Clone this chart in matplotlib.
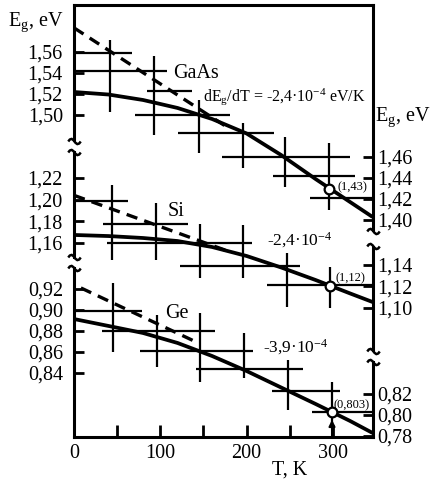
import matplotlib
matplotlib.use('Agg')
import matplotlib.pyplot as plt
from matplotlib.lines import Line2D

plt.rcParams['font.family'] = ['Liberation Serif', 'DejaVu Serif']
plt.rcParams['mathtext.fontset'] = 'custom'
plt.rcParams['mathtext.rm'] = 'Liberation Serif'
plt.rcParams['mathtext.it'] = 'Liberation Serif:italic'
plt.rcParams['mathtext.default'] = 'regular'

# ---------------- data ----------------
curve_T = [0, 40, 80, 120, 160, 200, 240, 280, 320, 346]
gaas_curve_E = [1.5219, 1.5195, 1.5143, 1.5067, 1.4962, 1.4824, 1.4619, 1.4390, 1.4171, 1.4029]
si_curve_E = [1.1674, 1.1664, 1.1646, 1.1618, 1.1563, 1.1480, 1.1374, 1.1258, 1.1134, 1.1055]
ge_curve_E = [0.8914, 0.8848, 0.8781, 0.8686, 0.8562, 0.8419, 0.8262, 0.8105, 0.7943, 0.7829]

gaas_dash_T = [0, 179]
gaas_dash_E = [1.583, 1.4876]
si_dash_T = [0, 178]
si_dash_E = [1.204, 1.1526]
ge_dash_T = [8, 144]
ge_dash_E = [0.921, 0.8686]

# vertical error bars (T, E_low, E_high)
gaas_v_T = [42, 93, 145, 196, 245, 296]
gaas_v_lo = [1.503, 1.481, 1.464, 1.450, 1.431, 1.410]
gaas_v_hi = [1.571, 1.556, 1.514, 1.492, 1.479, 1.473]
si_v_T = [44, 95, 146, 196, 247, 297]
si_v_lo = [1.144, 1.144, 1.128, 1.128, 1.101, 1.100]
si_v_hi = [1.2135, 1.197, 1.1775, 1.1766, 1.1507, 1.1378]
ge_v_T = [45, 96, 146, 197, 248, 299]
ge_v_lo = [0.860, 0.8457, 0.8314, 0.8352, 0.8048, 0.7924]
ge_v_hi = [0.9257, 0.8952, 0.8971, 0.8781, 0.8524, 0.8314]

# horizontal error bars (E, T_low, T_high)
gaas_h_E = [1.559, 1.542, 1.523, 1.500, 1.483, 1.460, 1.442, 1.421]
gaas_h_lo = [0, 0, 85, 71, 120, 171, 231, 273]
gaas_h_hi = [67, 108, 137, 181, 232, 320, 326, 346]
si_h_E = [1.199, 1.1775, 1.160, 1.1387, 1.1212]
si_h_lo = [0, 34, 38, 123, 224]
si_h_hi = [63, 132, 206, 262, 346]
ge_h_E = [0.899, 0.880, 0.861, 0.8438, 0.8229, 0.8029]
ge_h_lo = [0, 32, 76, 141, 229, 276]
ge_h_hi = [79, 163, 207, 265, 308, 346]

# marked points at 300 K
gaas_pt = (296, 1.430)
si_pt = (297, 1.120)
ge_pt = (299, 0.803)
pt_labels = ['(1,43)', '(1,12)', '(0,803)']

gaas_left_ticks = [1.50, 1.52, 1.54, 1.56]
gaas_right_ticks = [1.40, 1.42, 1.44, 1.46]
si_left_ticks = [1.16, 1.18, 1.20, 1.22]
si_right_ticks = [1.10, 1.12, 1.14]
ge_left_ticks = [0.84, 0.86, 0.88, 0.90, 0.92]
ge_right_ticks = [0.78, 0.80, 0.82]
x_major = [0, 100, 200, 300]
x_minor = [50, 150, 250]

# ---------------- layout ----------------
W, H = 437, 482
fig = plt.figure(figsize=(W / 100, H / 100), dpi=100)
L, R, TOP, BOT = 74, 373, 5, 437
rect = [L / W, 1 - BOT / H, (R - L) / W, (BOT - TOP) / H]
FS = 14.5
LW_SP = 2.2


def fx(x):
    return x / W


def fy(y):
    return 1 - y / H


def lab(v):
    return f"{v:.2f}".replace('.', ',')


# panel scale: (reference energy, its pixel row, pixels per eV)
panels = {
    'gaas': (1.56, 52, 1050.0),
    'si': (1.22, 178, 1083.0),
    'ge': (0.92, 289, 1050.0),
}


def e_at(name, ypix):
    e0, y0, ppu = panels[name]
    return e0 - (ypix - y0) / ppu


ax_ge = fig.add_axes(rect)
ax_ge.set_xlim(0, 346.5)
ax_si = fig.add_axes(rect, sharex=ax_ge)
ax_ga = fig.add_axes(rect, sharex=ax_ge)

spine_left = {'gaas': (TOP, 140), 'si': (152, 257), 'ge': (268, BOT)}
spine_right = {'gaas': (TOP, 230), 'si': (247, 350), 'ge': (362, BOT)}
ticks_l = {'gaas': gaas_left_ticks, 'si': si_left_ticks, 'ge': ge_left_ticks}
ticks_r = {'gaas': gaas_right_ticks, 'si': si_right_ticks, 'ge': ge_right_ticks}

for name, ax in [('ge', ax_ge), ('si', ax_si), ('gaas', ax_ga)]:
    ylim = (e_at(name, BOT), e_at(name, TOP))
    ax.set_ylim(*ylim)
    ax.set_facecolor('none')
    for s in ['top', 'bottom', 'right']:
        ax.spines[s].set_visible(False)
    y1, y2 = spine_left[name]
    ax.spines['left'].set_bounds(e_at(name, y2), e_at(name, y1))
    ax.spines['left'].set_linewidth(LW_SP)
    ax.spines['left'].set_capstyle('projecting')
    ax.set_yticks(ticks_l[name])
    ax.set_yticklabels([lab(v) for v in ticks_l[name]])
    ax.tick_params(axis='y', direction='in', length=7, width=2, labelsize=FS, pad=8)
    if name != 'ge':
        ax.tick_params(axis='x', which='both', bottom=False, labelbottom=False)
    axr = ax.twinx()
    axr.set_ylim(*ylim)
    for s in ['top', 'bottom', 'left']:
        axr.spines[s].set_visible(False)
    y1, y2 = spine_right[name]
    axr.spines['right'].set_bounds(e_at(name, y2), e_at(name, y1))
    axr.spines['right'].set_linewidth(LW_SP)
    axr.spines['right'].set_capstyle('projecting')
    axr.set_yticks(ticks_r[name])
    axr.set_yticklabels([lab(v) for v in ticks_r[name]])
    axr.tick_params(axis='y', direction='in', length=7, width=2, labelsize=FS, pad=3)
    axr.tick_params(axis='x', which='both', bottom=False, labelbottom=False, top=False)

ax_ge.spines['bottom'].set_visible(True)
ax_ge.spines['bottom'].set_linewidth(LW_SP)
ax_ge.spines['bottom'].set_capstyle('projecting')
ax_ga.spines['top'].set_visible(True)
ax_ga.spines['top'].set_linewidth(LW_SP)
ax_ga.spines['top'].set_capstyle('projecting')
ax_ge.set_xticks(x_major)
ax_ge.set_xticklabels([str(v) for v in x_major])
ax_ge.set_xticks(x_minor, minor=True)
ax_ge.tick_params(axis='x', which='both', direction='in', length=9, width=2,
                  labelsize=FS, pad=5)

# ---------------- marks ----------------
LW_C = 2.7
LW_E = 1.6
for ax, cE, dT, dE, vT, vlo, vhi, hE, hlo, hhi, pt in [
    (ax_ga, gaas_curve_E, gaas_dash_T, gaas_dash_E, gaas_v_T, gaas_v_lo, gaas_v_hi,
     gaas_h_E, gaas_h_lo, gaas_h_hi, gaas_pt),
    (ax_si, si_curve_E, si_dash_T, si_dash_E, si_v_T, si_v_lo, si_v_hi,
     si_h_E, si_h_lo, si_h_hi, si_pt),
    (ax_ge, ge_curve_E, ge_dash_T, ge_dash_E, ge_v_T, ge_v_lo, ge_v_hi,
     ge_h_E, ge_h_lo, ge_h_hi, ge_pt),
]:
    ax.vlines(vT, vlo, vhi, color='k', lw=LW_E, zorder=2)
    ax.hlines(hE, hlo, hhi, color='k', lw=LW_E, zorder=2)
    ax.plot(curve_T, cE, color='k', lw=LW_C, zorder=3, solid_capstyle='butt')
    ax.plot(dT, dE, color='k', lw=2.4, ls=(0, (3.4, 2.2)), zorder=3)
    ax.plot([pt[0]], [pt[1]], 'o', ms=7, mfc='white', mec='k', mew=1.6, zorder=4)

ax_ge.annotate('', xy=(ge_pt[0], 0.7955), xytext=(ge_pt[0], e_at('ge', BOT)),
               arrowprops=dict(arrowstyle='-|>', lw=1.5, color='k',
                               mutation_scale=9, shrinkA=0, shrinkB=0))

# break marks on the spines
tilde = [(-1.0, 0.0), (-0.75, 0.32), (-0.45, 0.42), (-0.15, 0.2), (0.15, -0.2),
         (0.45, -0.42), (0.75, -0.32), (1.0, 0.0)]
for xp, yp in [(L, 141), (L, 152), (L, 257), (L, 268),
               (R, 231), (R, 246), (R, 351), (R, 362)]:
    fig.add_artist(Line2D([fx(xp)], [fy(yp)], transform=fig.transFigure,
                          marker=tilde, ms=9, mew=1.8, mfc='none', mec='k',
                          ls='none'))

# ---------------- texts ----------------
fig.text(fx(8), fy(22), 'E$_g$, eV', fontsize=FS, va='center', ha='left')
fig.text(fx(375), fy(117), 'E$_g$, eV', fontsize=FS, va='center', ha='left')
fig.text(fx(290), fy(470), 'T, K', fontsize=FS, va='center', ha='center')
fig.text(fx(173), fy(73), 'GaAs', fontsize=14.5, va='center', ha='left')
fig.text(fx(168), fy(211), 'Si', fontsize=14.5, va='center', ha='left')
fig.text(fx(165), fy(313), 'Ge', fontsize=14.5, va='center', ha='left')
fig.text(fx(203), fy(97), 'dE$_g$/dT = -2,4·10$^{-4}$ eV/K', fontsize=11.5,
         va='center', ha='left')
fig.text(fx(267), fy(240), '-2,4·10$^{-4}$', fontsize=12.5, va='center', ha='left')
fig.text(fx(263), fy(347), '-3,9·10$^{-4}$', fontsize=12.5, va='center', ha='left')
fig.text(fx(337), fy(187), pt_labels[0], fontsize=9, va='center', ha='left')
fig.text(fx(335), fy(278), pt_labels[1], fontsize=9, va='center', ha='left')
fig.text(fx(333), fy(405), pt_labels[2], fontsize=9, va='center', ha='left')

fig.savefig('out.png', dpi=100)
